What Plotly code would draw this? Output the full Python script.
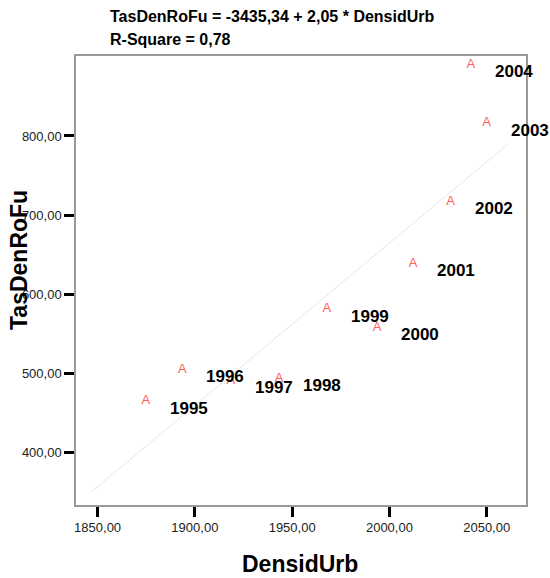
import plotly.graph_objects as go

# Data
years = ["1995", "1996", "1997", "1998", "1999", "2000", "2001", "2002", "2003", "2004"]
densid_urb = [1874.8, 1893.5, 1918.5, 1943.3, 1967.8, 1993.7, 2012.2, 2031.4, 2049.9, 2041.8]
tas_den_rofu = [465.3, 505.3, 490.9, 494.0, 581.5, 558.4, 639.2, 717.0, 816.1, 889.7]

intercept = -3435.34
slope = 2.05
fit_x = [1847.0, 2061.0]
fit_y = [intercept + slope * v for v in fit_x]

x_tickvals = [1850, 1900, 1950, 2000, 2050]
x_ticktext = ["1850,00", "1900,00", "1950,00", "2000,00", "2050,00"]
y_tickvals = [400, 500, 600, 700, 800]
y_ticktext = ["400,00", "500,00", "600,00", "700,00", "800,00"]

FONT = "Liberation Sans, Arial, sans-serif"

fig = go.Figure()
fig.add_trace(go.Scatter(
    x=fit_x, y=fit_y, mode="lines",
    line=dict(color="#e6e6e6", width=1),
    hoverinfo="skip", showlegend=False,
))
fig.add_trace(go.Scatter(
    x=densid_urb, y=tas_den_rofu, mode="text", text=["A"] * len(years),
    textposition="middle center",
    textfont=dict(family=FONT, size=13, color="#ff5e5e"),
    showlegend=False,
))

annotations = []
for xv, yv, lab in zip(densid_urb, tas_den_rofu, years):
    annotations.append(dict(
        x=xv, y=yv, xref="x", yref="y", text="<b>%s</b>" % lab,
        showarrow=False, xshift=43, yshift=-7,
        font=dict(family=FONT, size=17, color="#000000"),
    ))

annotations.append(dict(
    x=(108 - 76) / 450, y=(505 - 17) / 449, xref="paper", yref="paper",
    xanchor="left", yanchor="middle", align="left",
    text="<b>TasDenRoFu = -3435,34 + 2,05 * DensidUrb</b>", showarrow=False,
    font=dict(family=FONT, size=16, color="#000000"),
))
annotations.append(dict(
    x=(108 - 76) / 450, y=(505 - 39) / 449, xref="paper", yref="paper",
    xanchor="left", yanchor="middle", align="left",
    text="<b>R-Square = 0,78</b>", showarrow=False,
    font=dict(family=FONT, size=16, color="#000000"),
))
annotations.append(dict(
    x=(300 - 76) / 450, y=(505 - 564) / 449, xref="paper", yref="paper",
    xanchor="center", yanchor="middle",
    text="<b>DensidUrb</b>", showarrow=False,
    font=dict(family=FONT, size=23, color="#000000"),
))
annotations.append(dict(
    x=(19 - 76) / 450, y=(505 - 260) / 449, xref="paper", yref="paper",
    xanchor="center", yanchor="middle", textangle=-90,
    text="<b>TasDenRoFu</b>", showarrow=False,
    font=dict(family=FONT, size=23, color="#000000"),
))

fig.update_layout(
    width=550, height=578,
    margin=dict(l=76, r=24, t=56, b=73),
    paper_bgcolor="white", plot_bgcolor="white",
    annotations=annotations,
    xaxis=dict(
        range=[1838.9, 2070.2], tickvals=x_tickvals, ticktext=x_ticktext,
        showgrid=False, zeroline=False, showline=True, mirror=True,
        linecolor="#999999", linewidth=1.5,
        ticks="outside", ticklen=10, tickwidth=3, tickcolor="#000000",
        tickfont=dict(family=FONT, size=13, color="#222222"),
    ),
    yaxis=dict(
        range=[334, 901], tickvals=y_tickvals, ticktext=y_ticktext,
        showgrid=False, zeroline=False, showline=True, mirror=True,
        linecolor="#999999", linewidth=1.5,
        ticks="outside", ticklen=10, tickwidth=3, tickcolor="#000000",
        tickfont=dict(family=FONT, size=13, color="#222222"),
    ),
)

fig.write_html("out.html")
